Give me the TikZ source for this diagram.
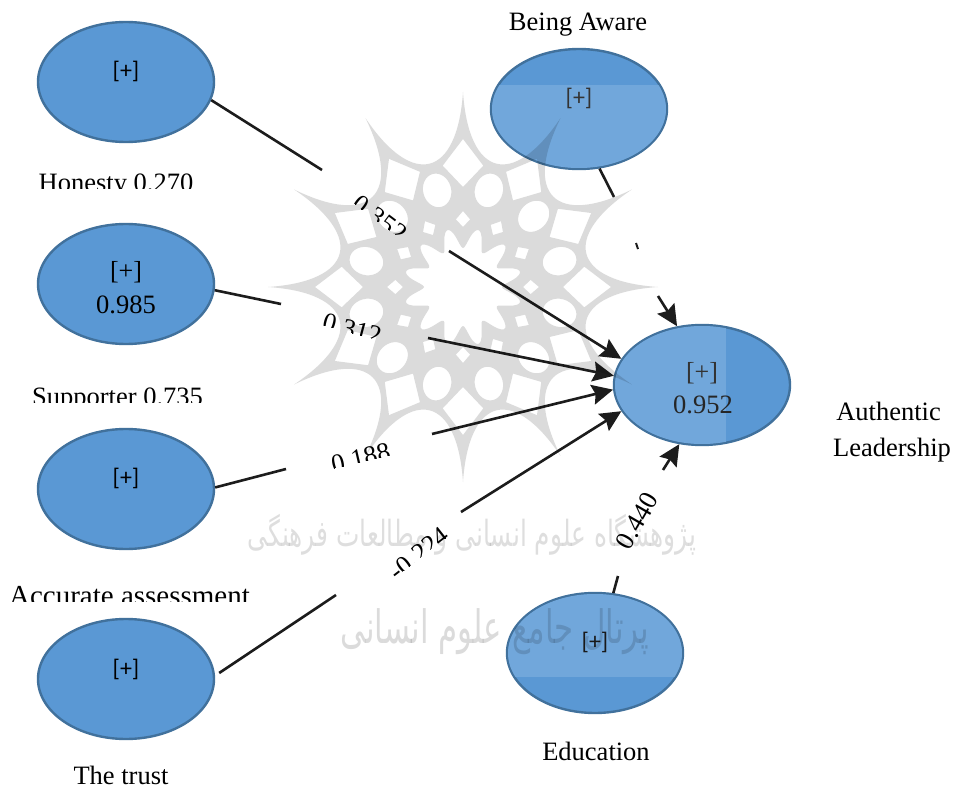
\documentclass[tikz,border=0pt]{standalone}
\usepackage{fontspec}
\usetikzlibrary{shapes.geometric,arrows.meta}
\setmainfont{Liberation Serif}
\newfontfamily\carl{Carlito}
\newfontfamily\arabicfont[Script=Arabic]{DejaVu Sans}
\TeXXeTstate=1
\definecolor{blueA}{HTML}{5A98D4}
\definecolor{blueB}{HTML}{71A7DB}
\definecolor{edgeA}{HTML}{41719C}
\definecolor{inkA}{HTML}{1C1C1C}
\tikzset{
  x=1pt,y=-1pt,
  bubble/.style={ellipse,draw=edgeA,line width=2.4pt,fill=blueA,minimum width=176pt,minimum height=120pt,inner sep=0pt},
  serifT/.style={font=\fontsize{26.5}{30}\selectfont,text=black,inner sep=0pt},
  plusC/.style={font=\carl\fontsize{24}{28}\selectfont,text=black,inner sep=0pt},
  plusS/.style={font=\fontsize{26}{30}\selectfont,text=black,inner sep=0pt},
  link/.style={draw=inkA,line width=2.6pt},
  arrowlink/.style={link,-{Stealth[length=21pt,width=20pt,inset=3pt]}},
}
% strip of rotated text whose lower part is cut off: #1 name, #2 centre, #3 angle, #4 text, #5 cut
\newcommand{\cutlabel}[5]{%
  \begin{scope}[shift={#2},rotate=#3]
    \clip (-60,-20) rectangle (60,#5);
    \node[serifT,anchor=base,transform shape] (#1) at (0,12) {#4};
  \end{scope}}
\begin{document}
\begin{tikzpicture}
\useasboundingbox (0,0) rectangle (954,789);
\fill[white] (0,0) rectangle (954,789);

% ellipses
\node[bubble] (hon) at (126,82) {};
\node[bubble] (sup) at (126,284) {};
\node[bubble] (acc) at (126,489) {};
\node[bubble] (tru) at (126,679) {};
\node[bubble] (awa) at (579,109) {};
\node[bubble] (aut) at (702,385) {};
\node[bubble] (edu) at (595,653) {};

% lighter panels
\begin{scope}
  \clip (579,109) ellipse [x radius=87,y radius=59];
  \fill[blueB] (480,85) rectangle (680,175);
\end{scope}
\begin{scope}
  \clip (702,385) ellipse [x radius=87,y radius=59];
  \fill[blueB] (600,320) rectangle (726,450);
\end{scope}
\begin{scope}
  \clip (595,653) ellipse [x radius=87,y radius=59];
  \fill[blueB] (500,590) rectangle (690,677);
\end{scope}

% gap ends of connectors
\coordinate (h1) at (322,170); \coordinate (h2) at (449,251);
\coordinate (s1) at (281,304); \coordinate (s2) at (428,338);
\coordinate (c1) at (286,469); \coordinate (c2) at (432,434);
\coordinate (t1) at (336,595); \coordinate (t2) at (461,512);
\coordinate (a1) at (614,197); \coordinate (a2) at (636,243); \coordinate (a3) at (638,249); \coordinate (a4) at (658,296);
\coordinate (e1) at (618,576); \coordinate (e2) at (663,470);

% connectors
\draw[link] (hon.-12) -- (h1);
\draw[arrowlink] (h2) -- (aut.162);
\draw[link] (sup.-4) -- (s1);
\draw[arrowlink] (s2) -- (aut.174);
\draw[link] (acc.1) -- (c1);
\draw[arrowlink] (c2) -- (aut.183);
\draw[link] (tru.-0) ++(4,-6) coordinate (t0) (t0) -- (t1);
\draw[arrowlink] (t2) -- (aut.198);
\draw[link] (awa.-71) -- (a1);
\draw[link,line width=2pt] (a2) -- (a3);
\draw[arrowlink] (a4) -- (aut.113);
\draw[link] (edu.73) -- (e1);
\draw[arrowlink] (e2) -- (aut.-111);

% ellipse texts
\node[plusC] (p1) at (126,71) {[+]};
\node[plusS] (p2) at (126,272) {[+]};
\node[serifT] (v2) at (126,305) {0.985};
\node[plusC] (p3) at (126,478) {[+]};
\node[plusC] (p4) at (126,669) {[+]};
\node[plusC,text=black!80] (p5) at (579,98) {[+]};
\node[plusS,text=black!80] (p6) at (702,373) {[+]};
\node[serifT,text=black!85] (v6) at (703,405) {0.952};
\node[plusC,text=black!90] (p7) at (595,642) {[+]};

% captions
\begin{scope}
  \clip (0,160) rectangle (260,189);
  \node[serifT,anchor=base] (l1) at (116,191.5) {Honesty 0.270};
\end{scope}
\begin{scope}
  \clip (0,370) rectangle (260,402);
  \node[serifT,anchor=base] (l2) at (117.5,405) {Supporter 0.735};
\end{scope}
\begin{scope}
  \clip (0,570) rectangle (270,601);
  \node[serifT,anchor=base,font=\fontsize{29}{32}\selectfont] (l3) at (129.5,605) {Accurate assessment};
\end{scope}
\node[serifT] (l4) at (121,775.5) {The trust};
\node[serifT] (l5) at (578,25) {Being Aware};
\node[serifT] (l6) at (596,751.5) {Education};
\node[serifT] (l7) at (888.5,411.5) {Authentic};
\node[serifT] (l8) at (892,450) {Leadership};

% path labels
\cutlabel{w1}{(382,216)}{-37}{0.352}{7}
\cutlabel{w2}{(353,326)}{-15}{0.312}{7}
\cutlabel{w3}{(360,455)}{13}{0.188}{7}
\cutlabel{w4}{(417,551)}{38}{-0.224}{7}
\node[serifT,rotate=60] (w5) at (637,521) {0.440};

% watermark rosette
\begin{scope}[shift={(463,287)}]
  \fill[black,opacity=0.14,even odd rule]
    (0:195)
    foreach \a [evaluate=\a as \b using \a+3, evaluate=\a as \c using \a+27, evaluate=\a as \d using \a+30] in {0,30,...,330} {
      .. controls (\b:110) and (\c:110) .. (\d:195)
    } -- cycle
    foreach \a [evaluate=\a as \l using \a+9.5, evaluate=\a as \r using \a-9.5] in {0,30,...,330} {
      (\a:148) -- (\l:123) -- (\a:100) -- (\r:123) -- cycle
    }
    foreach \a [evaluate=\a as \l using \a+6, evaluate=\a as \r using \a-6] in {0,30,...,330} {
      (\a:76) -- (\l:68) -- (\a:60) -- (\r:68) -- cycle
    }
    foreach \a [evaluate=\a as \t using -\a] in {15,45,...,345} {
      (\a:100) circle [x radius=17,y radius=14,rotate=\t]
    }
    plot[domain=0:360,samples=181,smooth] (\x:{49+10*cos(12*(\x-15))}) -- cycle;
\end{scope}

% watermark text
\node[font=\arabicfont\fontsize{36}{40}\selectfont,text=black,text opacity=0.13,inner sep=0pt,xscale=0.69,transform shape] (m1) at (472,535) {\beginR پژوهشگاه علوم انسانی و مطالعات فرهنگی\endR};
\node[font=\arabicfont\fontsize{46}{50}\selectfont,text=black,text opacity=0.14,inner sep=0pt,xscale=0.67,transform shape] (m2) at (495,632) {\beginR پرتال جامع علوم انسانی\endR};
\end{tikzpicture}
\end{document}
